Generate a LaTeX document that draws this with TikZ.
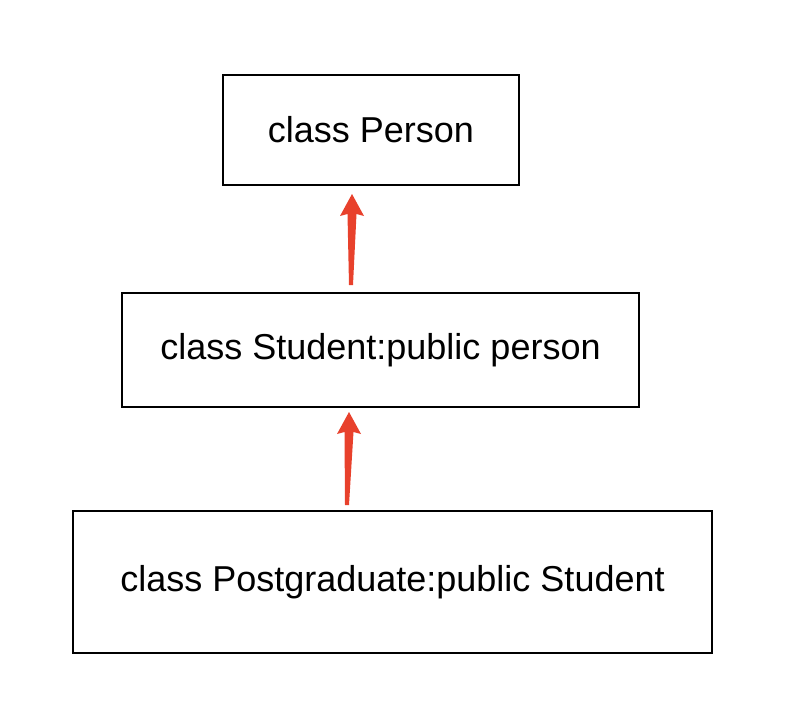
\documentclass[tikz,border=0pt]{standalone}
\usepackage{fontspec}
\setmainfont{Liberation Sans}
\usetikzlibrary{calc}
\definecolor{arrowred}{HTML}{E8412C}
\tikzset{
  classbox/.style={draw=black, line width=1.6pt, inner sep=0pt, font=\fontsize{36}{42}\selectfont},
  taper/.style={fill=arrowred, draw=none}
}
\begin{document}
\begin{tikzpicture}[x=1pt,y=-1pt]
\useasboundingbox (0,0) rectangle (804,712);
\node[classbox, minimum width=296, minimum height=110] (person) at (371,130) {class Person};
\node[classbox, minimum width=517, minimum height=114] (student) at (380.5,350) {\raisebox{-3pt}{class Student:public person}};
\node[classbox, minimum width=639, minimum height=142] (post) at (392.5,582) {class Postgraduate:public Student};
% arrow coordinates
\coordinate (t1) at (351,285);
\coordinate (h1) at (352,194);
\coordinate (t2) at (347,505);
\coordinate (h2) at (349,412);
\foreach \t/\h in {t1/h1, t2/h2}{
  \fill[taper] ($(\t)+(-2,0)$) -- ($(\h)+(-4.5,20)$) -- ($(\h)+(-12,22)$) -- (\h)
    -- ($(\h)+(12,22)$) -- ($(\h)+(4.5,20)$) -- ($(\t)+(2,0)$) -- cycle;
}
\end{tikzpicture}
\end{document}
